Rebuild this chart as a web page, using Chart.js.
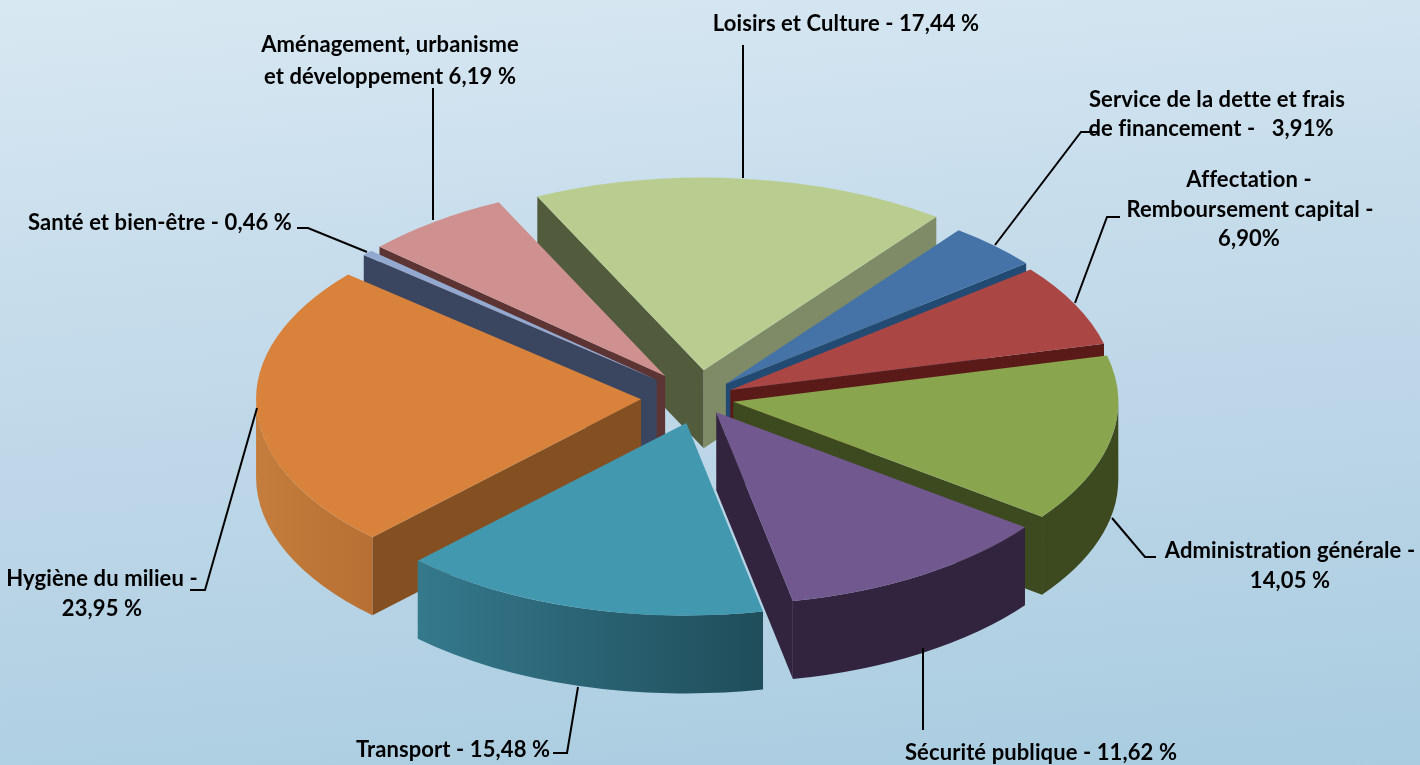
<!DOCTYPE html>
<html lang="fr">
<head>
<meta charset="utf-8">
<title>Répartition des dépenses</title>
<script src="https://cdn.jsdelivr.net/npm/chart.js@4"></script>
<style>
  html, body { margin: 0; padding: 0; width: 1420px; height: 765px; overflow: hidden; }
  body { background: linear-gradient(175deg, #d8e8f2 0%, #c6dceb 35%, #a9cce0 100%); }
  canvas { display: block; }
</style>
</head>
<body>
<canvas id="pie" width="1420" height="765"></canvas>
<script>
const categories = [
  "Loisirs et Culture", "Service de la dette et frais de financement", "Affectation - Remboursement capital",
  "Administration générale", "Sécurité publique", "Transport", "Hygiène du milieu", "Santé et bien-être",
  "Aménagement, urbanisme et développement",
];
const values = [17.44, 3.91, 6.9, 14.05, 11.62, 15.48, 23.95, 0.46, 6.19];

// look of the slices
const topColors = ["#b9cd90", "#4573a7", "#aa4643", "#89a54e", "#71588f", "#4198af", "#d9823b", "#93a9cf", "#cf9190"];
const startWalls = ["#525c3c", "#234a73", "#5a1a18", "#3d4a20", "#32243f", "#2a6a7c", "#845022", "#3a4660", "#5c3433"];
const endWalls = ["#7f8b66", "#234a73", "#5a1a18", "#3d4a20", "#32243f", "#2a6a7c", "#845022", "#3a4660", "#5c3433"];
const rimLeft = ["#7f8b66", "#234a73", "#5a1a18", "#3d4a20", "#32243f", "#35798d", "#c47d3c", "#3a4660", "#5c3433"];
const rimRight = ["#7f8b66", "#234a73", "#5a1a18", "#3d4a20", "#32243f", "#1f4d5a", "#b86f33", "#3a4660", "#5c3433"];
const pull = [56, 40, 36, 37, 34, 52, 58, 55, 55];
const nudgeX = [0, 0, 0, -1, 0, 3, 1, 0, 0];
const wallOrder = [0, 8, 7, 1, 2, 3, 6, 4, 5];

const squash = 0.5;
const depth = 78;

// label text: [line, centre x, middle y]
const labelLines = [
  ["Loisirs et Culture - 17,44 %", 846, 24],
  ["Aménagement, urbanisme", 390, 45],
  ["et développement 6,19 %", 390, 77],
  ["Service de la dette et frais", 1217, 100],
  ["de financement -   3,91%", 1211, 129],
  ["Affectation -", 1249, 180],
  ["Remboursement capital -", 1250, 210],
  ["6,90%", 1249, 239],
  ["Santé et bien-être - 0,46 %", 160, 223],
  ["Hygiène du milieu -", 102, 579],
  ["23,95 %", 102, 609],
  ["Transport - 15,48 %", 453, 750],
  ["Sécurité publique - 11,62 %", 1041, 753],
  ["Administration générale -", 1290, 551],
  ["14,05 %", 1290, 581],
];

const leaderLines = [
  [[743, 45], [743, 178]],
  [[433, 88], [433, 220]],
  [[1098, 132], [1081, 132], [995, 245]],
  [[1120, 217], [1107, 217], [1075, 303]],
  [[297, 228], [308, 228], [367, 252]],
  [[190, 590], [205, 590], [257, 408]],
  [[553, 753], [567, 753], [578, 687]],
  [[923, 730], [923, 648]],
  [[1156, 557], [1145, 557], [1112, 518]],
];

function drawWalls(chart, arc, i) {
  const ctx = chart.ctx;
  const y0 = (chart.chartArea.top + chart.chartArea.bottom) / 2;
  const cx = arc.x;
  const cy = y0 + (arc.y - y0) * squash;
  const r = arc.outerRadius;
  const a0 = arc.startAngle;
  const a1 = arc.endAngle;

  const radial = (a, color) => {
    const x = cx + Math.cos(a) * r;
    const y = cy + Math.sin(a) * r * squash;
    ctx.beginPath();
    ctx.moveTo(cx, cy);
    ctx.lineTo(x, y);
    ctx.lineTo(x, y + depth);
    ctx.lineTo(cx, cy + depth);
    ctx.closePath();
    ctx.fillStyle = color;
    ctx.fill();
  };
  if (Math.cos(a0) < 0) radial(a0, startWalls[i]);
  if (Math.cos(a1) > 0) radial(a1, endWalls[i]);

  // rim only where it faces us
  const from = Math.max(a0, 0);
  const to = Math.min(a1, Math.PI);
  if (to > from) {
    const right = cx + Math.cos(from) * r;
    const left = cx + Math.cos(to) * r;
    const grad = ctx.createLinearGradient(left, 0, right, 0);
    grad.addColorStop(0, rimLeft[i]);
    grad.addColorStop(1, rimRight[i]);
    ctx.beginPath();
    ctx.ellipse(cx, cy, r, r * squash, 0, from, to);
    ctx.ellipse(cx, cy + depth, r, r * squash, 0, to, from, true);
    ctx.closePath();
    ctx.fillStyle = grad;
    ctx.fill();
  }
}

const pie3d = {
  id: "pie3d",
  afterDatasetsUpdate(chart) {
    chart.getDatasetMeta(0).data.forEach((arc, i) => {
      const mid = (arc.startAngle + arc.endAngle) / 2;
      arc.x += Math.cos(mid) * pull[i] + nudgeX[i];
      arc.y += Math.sin(mid) * pull[i];
    });
  },
  beforeDatasetDraw(chart) {
    const arcs = chart.getDatasetMeta(0).data;
    const ctx = chart.ctx;
    const y0 = (chart.chartArea.top + chart.chartArea.bottom) / 2;
    wallOrder.forEach((i) => drawWalls(chart, arcs[i], i));
    ctx.save();
    ctx.translate(0, y0);
    ctx.scale(1, squash);
    ctx.translate(0, -y0);
  },
  afterDatasetDraw(chart) {
    chart.ctx.restore();
  },
  afterDraw(chart) {
    const ctx = chart.ctx;
    ctx.save();
    ctx.strokeStyle = "#000";
    ctx.lineWidth = 2;
    leaderLines.forEach((pts) => {
      ctx.beginPath();
      pts.forEach((p, n) => (n ? ctx.lineTo(p[0], p[1]) : ctx.moveTo(p[0], p[1])));
      ctx.stroke();
    });
    ctx.fillStyle = "#000";
    ctx.font = "bold 22px Lato";
    ctx.letterSpacing = "0.1px";
    ctx.textAlign = "center";
    ctx.textBaseline = "middle";
    labelLines.forEach((l) => ctx.fillText(l[0], l[1], l[2]));
    ctx.restore();
  },
};

new Chart(document.getElementById("pie"), {
  type: "pie",
  data: {
    labels: categories,
    datasets: [
      {
        data: values,
        backgroundColor: topColors,
        borderWidth: 0,
        clip: false,
      },
    ],
  },
  options: {
    responsive: false,
    animation: false,
    radius: 385,
    rotation: -25.6,
    layout: { padding: { right: 24, top: 31 } },
    plugins: { legend: { display: false }, tooltip: { enabled: false } },
  },
  plugins: [pie3d],
});
</script>
</body>
</html>
